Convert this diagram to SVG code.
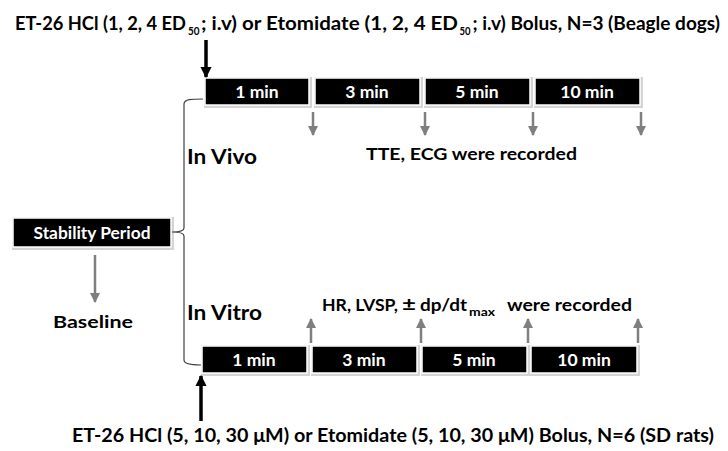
<svg xmlns="http://www.w3.org/2000/svg" width="728" height="451" viewBox="0 0 728 451">
<defs>
<marker id="ag" viewBox="0 0 10 10" refX="9" refY="5" markerWidth="4" markerHeight="4" orient="auto" markerUnits="strokeWidth"><path d="M0,0 L10,5 L0,10 z" fill="#7f7f7f"/></marker>
<marker id="ab" viewBox="0 0 10 10" refX="9" refY="5" markerWidth="3.2" markerHeight="3.2" orient="auto" markerUnits="strokeWidth"><path d="M0,0 L10,5 L0,10 z" fill="#000"/></marker>
</defs>
<style>
text{font-family:Lato,"Liberation Sans",sans-serif;font-weight:bold;fill:#000}
.box{fill:#000;stroke:#fff;stroke-width:1.5}
.sh{fill:#d4d4d4}
.bt{fill:#fff;font-size:17.5px;text-anchor:middle}
.ga{stroke:#7f7f7f;stroke-width:2.5;fill:none;marker-end:url(#ag)}
.ba{stroke:#000;stroke-width:3.5;fill:none;marker-end:url(#ab)}
.br{stroke:#404040;stroke-width:1.2;fill:none}
.t{font-size:19px}
.s{font-size:12px}
.m{font-size:17.5px}
</style>
<rect width="728" height="451" fill="#fff"/>
<g id="labels">
<text x="15" y="30" font-size="18.5" textLength="171" lengthAdjust="spacingAndGlyphs">ET-26 HCl (1, 2, 4 ED</text>
<text class="s" x="188" y="35" textLength="11.5" lengthAdjust="spacingAndGlyphs">50</text>
<text class="t" x="201" y="30" textLength="257" lengthAdjust="spacingAndGlyphs">; i.v) or Etomidate (1, 2, 4 ED</text>
<text class="s" x="459.5" y="35" textLength="11" lengthAdjust="spacingAndGlyphs">50</text>
<text class="t" x="472.5" y="30" textLength="247.5" lengthAdjust="spacingAndGlyphs">; i.v) Bolus, N=3 (Beagle dogs)</text>
<text class="t" x="72" y="442" textLength="642" lengthAdjust="spacingAndGlyphs">ET-26 HCl (5, 10, 30 μM) or Etomidate (5, 10, 30 μM) Bolus, N=6 (SD rats)</text>
<text x="187" y="164" font-size="21" textLength="70" lengthAdjust="spacingAndGlyphs">In Vivo</text>
<text x="187" y="320" font-size="21" textLength="75" lengthAdjust="spacingAndGlyphs">In Vitro</text>
<text class="m" x="366" y="160" textLength="211" lengthAdjust="spacingAndGlyphs">TTE, ECG were recorded</text>
<text class="m" x="322" y="311" textLength="76" lengthAdjust="spacingAndGlyphs">HR, LVSP,</text>
<text x="402" y="311" font-size="18" font-weight="normal" textLength="14" lengthAdjust="spacingAndGlyphs">±</text>
<text class="m" x="420" y="311" textLength="47" lengthAdjust="spacingAndGlyphs">dp/dt</text>
<text x="469" y="316" font-size="12" textLength="26" lengthAdjust="spacingAndGlyphs">max</text>
<text class="m" x="507" y="311" textLength="125" lengthAdjust="spacingAndGlyphs">were recorded</text>
<text class="m" x="53" y="328" textLength="80" lengthAdjust="spacingAndGlyphs">Baseline</text>
</g>
<g id="stability">
<rect class="sh" x="12" y="217" width="162" height="33"/>
<rect class="box" x="13" y="218" width="158" height="29"/>
<text class="bt" x="92" y="238.5" font-size="16" textLength="117" lengthAdjust="spacingAndGlyphs">Stability Period</text>
</g>
<g id="vivo-1"><rect class="sh" x="204" y="77" width="108" height="31"/><rect class="box" x="205" y="78" width="104" height="27"/><text class="bt" x="257" y="97.5">1 min</text></g>
<g id="vivo-3"><rect class="sh" x="314" y="77" width="109" height="31"/><rect class="box" x="315" y="78" width="105" height="27"/><text class="bt" x="367" y="97.5">3 min</text></g>
<g id="vivo-5"><rect class="sh" x="424" y="77" width="109" height="31"/><rect class="box" x="425" y="78" width="105" height="27"/><text class="bt" x="477" y="97.5">5 min</text></g>
<g id="vivo-10"><rect class="sh" x="534" y="77" width="109" height="31"/><rect class="box" x="535" y="78" width="105" height="27"/><text class="bt" x="587" y="97.5">10 min</text></g>
<g id="vitro-1"><rect class="sh" x="201" y="345" width="109" height="31"/><rect class="box" x="202" y="346" width="105" height="27"/><text class="bt" x="254" y="365.5">1 min</text></g>
<g id="vitro-3"><rect class="sh" x="311" y="345" width="109" height="31"/><rect class="box" x="312" y="346" width="105" height="27"/><text class="bt" x="364" y="365.5">3 min</text></g>
<g id="vitro-5"><rect class="sh" x="421" y="345" width="109" height="31"/><rect class="box" x="422" y="346" width="105" height="27"/><text class="bt" x="474" y="365.5">5 min</text></g>
<g id="vitro-10"><rect class="sh" x="530" y="345" width="110" height="31"/><rect class="box" x="531" y="346" width="106" height="27"/><text class="bt" x="584" y="365.5">10 min</text></g>
<g id="connectors">
<path class="ba" d="M206,40 V77"/>
<path class="ba" d="M201,421 V376"/>
<path class="ga" d="M95,255 V302"/>
<path class="ga" d="M313,112 V135"/>
<path class="ga" d="M425,112 V135"/>
<path class="ga" d="M533,112 V135"/>
<path class="ga" d="M641,112 V135"/>
<path class="ga" d="M311,343 V319"/>
<path class="ga" d="M421,343 V319"/>
<path class="ga" d="M528,343 V319"/>
<path class="ga" d="M638,343 V319"/>
<path class="br" d="M203,99 C192,99 184,99 184,104 V228 C184,231 180,232 172,232 C180,232 184,233 184,236 V360 C184,364 192,365 201,365"/>
</g>
</svg>
